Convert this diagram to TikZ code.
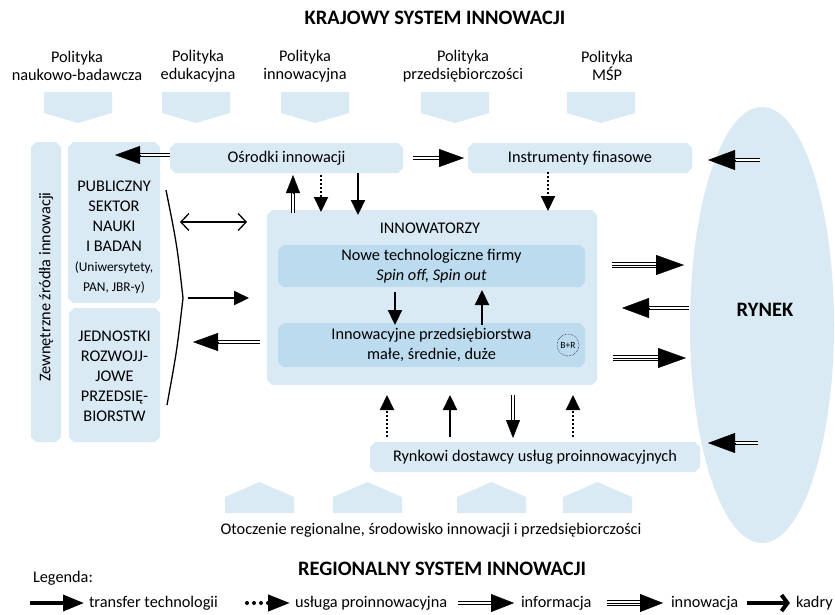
\documentclass[tikz,border=0pt]{standalone}
\usepackage{fontspec}
\setmainfont{Carlito}
\usetikzlibrary{arrows.meta,shapes.geometric,backgrounds,calc}
\definecolor{panel}{RGB}{217,234,245}
\definecolor{inner}{RGB}{188,219,238}
\newcommand{\fs}[2]{\fontsize{#1}{#2}\selectfont}
% fill a node's rectangle with snipped (chamfered) corners
\newcommand{\snipfill}[2]{%
  \fill[#2] ([xshift=5pt]#1.north west) -- ([xshift=-5pt]#1.north east)
    -- ([yshift=-5pt]#1.north east) -- ([yshift=5pt]#1.south east)
    -- ([xshift=-5pt]#1.south east) -- ([xshift=5pt]#1.south west)
    -- ([yshift=5pt]#1.south west) -- ([yshift=-5pt]#1.north west) -- cycle;}
% solid triangular head on the end of a multi-line shaft
\newcommand{\headat}[4]{%
  \draw[line width=0.4pt,-{Triangle[length=#3pt,width=#4pt]}] ($(#2)!#3pt!(#1)$) -- (#2);}
% information: double line shaft
\newcommand{\infarrow}[4]{%
  \draw[infshaft,shorten >=#3pt-3pt] (#1) -- (#2);
  \headat{#1}{#2}{#3}{#4}}
% innovation: triple line shaft
\newcommand{\innoarrow}[4]{%
  \draw[innoshaft,shorten >=#3pt-3pt] (#1) -- (#2);
  \draw[line width=0.9pt,shorten >=#3pt-3pt] (#1) -- (#2);
  \headat{#1}{#2}{#3}{#4}}

\begin{document}
\begin{tikzpicture}[x=1pt,y=-1pt,
  every node/.style={inner sep=0pt,outer sep=0pt,font=\fs{16.3}{19}},
  box/.style={rectangle},
  titlefont/.style={font=\bfseries\fs{20.5}{22}},
  tr/.style={line width=2.2pt,-{Triangle[length=15pt,width=14pt]}},
  dt/.style={line width=2pt,dash pattern=on 2pt off 2pt,-{Triangle[length=15pt,width=14pt]}},
  infshaft/.style={double,double distance=2pt,line width=1pt},
  innoshaft/.style={double,double distance=3.4pt,line width=0.9pt},
  both/.style={line width=1.3pt,{Straight Barb[length=8pt,width=17pt]}-{Straight Barb[length=8pt,width=17pt]}},
  kadr/.style={line width=4pt,-{Straight Barb[length=6pt,width=16pt]}},
  dots/.style={line width=4pt,line cap=round,dash pattern=on 0pt off 7pt}
]
\useasboundingbox (0,0) rectangle (835,614);

% titles
\node[titlefont] (kraj) at (435,18) {KRAJOWY SYSTEM INNOWACJI};
\node[titlefont] (reg) at (442,569) {REGIONALNY SYSTEM INNOWACJI};

% policy labels and their tabs
\node[align=center,font=\fs{16.3}{18}] (p1) at (77,66) {Polityka\\naukowo-badawcza};
\node[align=center,font=\fs{16.3}{18}] (p2) at (198,66) {Polityka\\edukacyjna};
\node[align=center,font=\fs{16.3}{18}] (p3) at (305,66) {Polityka\\innowacyjna};
\node[align=center,font=\fs{16.3}{18}] (p4) at (463,66) {Polityka\\przedsiębiorczości};
\node[align=center,font=\fs{16.3}{18}] (p5) at (607,66) {Polityka\\MŚP};
\foreach \xa in {44,162,281,421,567}
  \fill[panel] (\xa,92) -- ++(68,0) -- ++(0,21) -- ++(-34,10) -- ++(-34,-10) -- cycle;
\foreach \xa in {225,333,457,563}
  \fill[panel] (\xa,513) -- ++(69,0) -- ++(0,-16) -- ++(-34.5,-15) -- ++(-34.5,15) -- cycle;

% boxes
\node[box,minimum width=30,minimum height=300] (zew) at (46,292) {};
\node[rotate=90] (zewt) at (46,287) {Zewnętrzne źródła innowacji};
\node[box,minimum width=92,minimum height=161] (pub) at (114,222.5) {};
\node[align=center,font=\fs{16.3}{20}] (pubt) at (114,237) {PUBLICZNY\\SEKTOR\\NAUKI\\I BADAN\\{\fs{13.4}{20}(Uniwersytety,}\\{\fs{13.4}{20}PAN, JBR-y)}};
\node[box,minimum width=91,minimum height=134] (jed) at (114.5,375) {};
\node[align=center,font=\fs{16.3}{20}] (jedt) at (114.5,376) {JEDNOSTKI\\ROZWOJJ-\\JOWE\\PRZEDSIĘ-\\BIORSTW};
\node[box,minimum width=233,minimum height=30] (osr) at (286.5,158) {Ośrodki innowacji};
\node[box,minimum width=224,minimum height=30] (instr) at (580,158) {Instrumenty finasowe};
\node[box,minimum width=330,minimum height=175] (inn) at (432,297.5) {};
\node (innt) at (430,228) {INNOWATORZY};
\node[box,minimum width=307,minimum height=42,align=center,font=\fs{16.3}{20}] (nowe) at (431.5,266) {Nowe technologiczne firmy\\\textit{Spin off, Spin out}};
\node[box,minimum width=307,minimum height=44,align=center,font=\fs{16.3}{20}] (innp) at (431.5,345) {Innowacyjne przedsiębiorstwa\\małe, średnie, duże};
\node[circle,draw,densely dotted,line width=0.5pt,minimum size=22,font=\fs{9.5}{10}] (br) at (568,345) {B+R};
\node[box,minimum width=330,minimum height=30] (dost) at (535,457) {Rynkowi dostawcy usług proinnowacyjnych};
\node (otocz) at (431,530) {Otoczenie regionalne, środowisko innowacji i przedsiębiorczości};

% market
\node[font=\bfseries\fs{20.5}{22}] (rynekt) at (765,310) {RYNEK};

\begin{pgfonlayer}{background}
  \node[ellipse,fill=panel,minimum width=144,minimum height=436] (rynek) at (762,325) {};
  \snipfill{zew}{panel}
  \snipfill{pub}{panel}
  \snipfill{jed}{panel}
  \snipfill{osr}{panel}
  \snipfill{instr}{panel}
  \snipfill{inn}{panel}
  \snipfill{nowe}{inner}
  \snipfill{innp}{inner}
  \snipfill{dost}{panel}
\end{pgfonlayer}

% connector end points
\coordinate (a1s) at (170,155); \coordinate (a1e) at (115,155);
\coordinate (a2s) at (413,158); \coordinate (a2e) at (464,158);
\coordinate (a3s) at (760,160); \coordinate (a3e) at (708,160);
\coordinate (a4s) at (612,265); \coordinate (a4e) at (684,265);
\coordinate (a5s) at (689,308); \coordinate (a5e) at (622,308);
\coordinate (a6s) at (613,358); \coordinate (a6e) at (686,358);
\coordinate (a7s) at (758,443); \coordinate (a7e) at (708,443);
\coordinate (a8s) at (260,342); \coordinate (a8e) at (193,342);
\coordinate (v1s) at (293,213); \coordinate (v1e) at (293,175);
\coordinate (v2s) at (321,175); \coordinate (v2e) at (321,212);
\coordinate (v3s) at (358,173); \coordinate (v3e) at (358,215);
\coordinate (v4s) at (548,172); \coordinate (v4e) at (548,211);
\coordinate (v5s) at (395,292); \coordinate (v5e) at (395,325);
\coordinate (v6s) at (482,325); \coordinate (v6e) at (482,290);
\coordinate (b1s) at (387,437); \coordinate (b1e) at (387,395);
\coordinate (b2s) at (450,437); \coordinate (b2e) at (450,395);
\coordinate (b3s) at (513,395); \coordinate (b3e) at (513,438);
\coordinate (b4s) at (573,437); \coordinate (b4e) at (573,395);
\coordinate (h1s) at (180,222); \coordinate (h1e) at (247,222);
\coordinate (h2s) at (188,298); \coordinate (h2e) at (249,298);
\coordinate (k1) at (166,190); \coordinate (k2) at (183,298); \coordinate (k3) at (167,405);

% information flows
\infarrow{a1s}{a1e}{25}{18}
\infarrow{a2s}{a2e}{25}{18}
\infarrow{a3s}{a3e}{27}{20}
\infarrow{a5s}{a5e}{27}{20}
\infarrow{a7s}{a7e}{27}{20}
\infarrow{a8s}{a8e}{25}{18}
\infarrow{v1s}{v1e}{18}{14}
\infarrow{b3s}{b3e}{18}{14}
% innovation flows
\innoarrow{a4s}{a4e}{28}{20}
\innoarrow{a6s}{a6e}{28}{20}
% technology transfer
\draw[tr] (v3s) -- (v3e);
\draw[tr] (v5s) -- (v5e);
\draw[tr] (v6s) -- (v6e);
\draw[tr] (b2s) -- (b2e);
\draw[tr] (h2s) -- (h2e);
% pro-innovation services
\draw[dt] (v2s) -- (v2e);
\draw[dt] (v4s) -- (v4e);
\draw[dt] (b1s) -- (b1e);
\draw[dt] (b4s) -- (b4e);
% exchange with science sector
\draw[both] (h1s) -- (h1e);
\draw[line width=1.3pt] (k1) .. controls (177,245) .. (k2) .. controls (177,350) .. (k3);

% legend
\node[anchor=west] (leg) at (33,578) {Legenda:};
\coordinate (l1a) at (30,603); \coordinate (l1b) at (84,603);
\draw[line width=3.5pt,-{Triangle[length=21pt,width=16pt]}] (l1a) -- (l1b);
\node[anchor=west] (l1t) at (89,603) {transfer technologii};
\coordinate (l2a) at (247,603); \coordinate (l2b) at (290,603);
\draw[dots,-{Triangle[length=22pt,width=16pt]}] (l2a) -- (l2b);
\node[anchor=west] (l2t) at (295,603) {usługa proinnowacyjna};
\coordinate (l3a) at (458,603); \coordinate (l3b) at (514,603);
\infarrow{l3a}{l3b}{23}{18}
\node[anchor=west] (l3t) at (521,603) {informacja};
\coordinate (l4a) at (607,603); \coordinate (l4b) at (663,603);
\innoarrow{l4a}{l4b}{23}{18}
\node[anchor=west] (l4t) at (671,603) {innowacja};
\coordinate (l5a) at (747,603); \coordinate (l5b) at (790,603);
\draw[kadr] (l5a) -- (l5b);
\node[anchor=west] (l5t) at (796,603) {kadry};
\end{tikzpicture}
\end{document}
